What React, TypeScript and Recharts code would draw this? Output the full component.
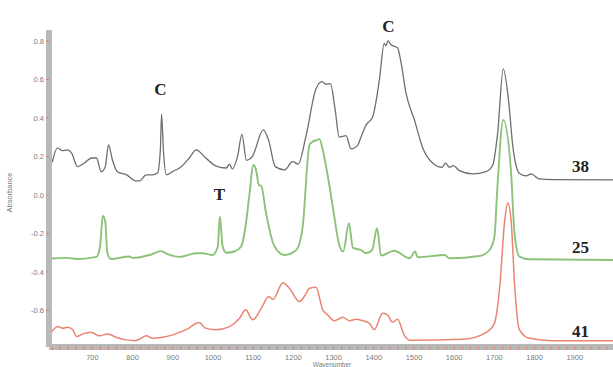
import { LineChart, Line, XAxis, YAxis, ReferenceDot } from "recharts";

// sample 38 (grey trace)
const wn38 = [
  600, 613, 625, 638, 648, 663, 680, 698, 710, 722, 732, 740, 750, 762, 785,
  809, 817, 834, 849, 862, 869, 872, 877, 884, 899, 921, 941, 958, 983, 1008,
  1033, 1041, 1048, 1061, 1072, 1083, 1098, 1125, 1138, 1155, 1178, 1198,
  1212, 1231, 1256, 1271, 1282, 1292, 1304, 1314, 1331, 1343, 1359, 1368,
  1381, 1397, 1414, 1426, 1430, 1435, 1443, 1459, 1468, 1480, 1501, 1522,
  1547, 1570, 1578, 1588, 1598, 1613, 1646, 1679, 1696, 1708, 1722, 1735,
  1746, 1762, 1779, 1791, 1812, 1845, 2000,
];
const abs38 = [
  0.17, 0.245, 0.23, 0.234, 0.218, 0.147, 0.166, 0.192, 0.192, 0.121, 0.147,
  0.26, 0.18, 0.121, 0.104, 0.073, 0.073, 0.104, 0.104, 0.114, 0.234, 0.42,
  0.218, 0.104, 0.121, 0.147, 0.192, 0.234, 0.19, 0.15, 0.14, 0.16, 0.135,
  0.2, 0.315, 0.18, 0.2, 0.338, 0.286, 0.147, 0.13, 0.173, 0.16, 0.303, 0.55,
  0.589, 0.575, 0.578, 0.44, 0.3, 0.308, 0.24, 0.255, 0.3, 0.364, 0.405, 0.6,
  0.788, 0.775, 0.8, 0.78, 0.765, 0.685, 0.53, 0.39, 0.243, 0.165, 0.144,
  0.165, 0.144, 0.152, 0.126, 0.109, 0.121, 0.156, 0.32, 0.655, 0.494, 0.25,
  0.113, 0.099, 0.109, 0.083, 0.08, 0.078,
];

// sample 25 (green trace)
const wn25 = [
  595, 635, 668, 710, 719, 726, 732, 737, 746, 792, 800, 842, 871, 887, 916,
  958, 974, 999, 1012, 1017, 1024, 1033, 1053, 1070, 1082, 1091, 1100, 1107,
  1114, 1120, 1132, 1153, 1178, 1207, 1223, 1240, 1248, 1258, 1265, 1273,
  1290, 1300, 1314, 1324, 1338, 1348, 1368, 1381, 1396, 1408, 1418, 1451,
  1489, 1503, 1509, 1576, 1588, 1663, 1688, 1700, 1708, 1722, 1741, 1750,
  1762, 1787, 2000,
];
const abs25 = [
  -0.33, -0.327, -0.333, -0.322, -0.268, -0.108, -0.14, -0.3, -0.333, -0.32,
  -0.327, -0.312, -0.292, -0.308, -0.322, -0.303, -0.303, -0.312, -0.268,
  -0.113, -0.268, -0.3, -0.294, -0.268, -0.147, 0.01, 0.156, 0.13, 0.052,
  0.047, -0.095, -0.268, -0.312, -0.286, -0.165, 0.26, 0.277, 0.285, 0.29,
  0.234, 0.043, -0.09, -0.26, -0.294, -0.147, -0.275, -0.286, -0.303, -0.286,
  -0.173, -0.315, -0.29, -0.329, -0.294, -0.324, -0.312, -0.329, -0.317,
  -0.286, -0.217, 0.06, 0.39, 0.13, -0.2, -0.32, -0.334, -0.338,
];

// sample 41 (red trace)
const wn41 = [
  595, 614, 626, 639, 651, 661, 676, 697, 717, 738, 759, 784, 804, 817, 834,
  850, 875, 900, 933, 966, 981, 1008, 1041, 1066, 1081, 1099, 1120, 1139,
  1149, 1174, 1190, 1215, 1227, 1240, 1256, 1273, 1285, 1302, 1323, 1339,
  1356, 1372, 1389, 1401, 1422, 1433, 1447, 1459, 1476, 1489, 1621, 1679,
  1700, 1714, 1725, 1733, 1742, 1750, 1762, 1787, 1845, 2000,
];
const abs41 = [
  -0.722, -0.684, -0.692, -0.687, -0.7, -0.736, -0.722, -0.713, -0.732,
  -0.722, -0.739, -0.753, -0.757, -0.75, -0.732, -0.745, -0.739, -0.727,
  -0.7, -0.663, -0.692, -0.7, -0.684, -0.641, -0.597, -0.649, -0.589, -0.528,
  -0.542, -0.456, -0.485, -0.554, -0.528, -0.485, -0.48, -0.597, -0.623,
  -0.653, -0.636, -0.653, -0.646, -0.653, -0.667, -0.7, -0.615, -0.622,
  -0.662, -0.646, -0.73, -0.755, -0.75, -0.715, -0.667, -0.459, -0.147,
  -0.04, -0.147, -0.459, -0.7, -0.745, -0.757, -0.757,
];

const yTicks = [0.8, 0.6, 0.4, 0.2, 0, -0.2, -0.4, -0.6];
const xLabels = [700, 800, 900, 1000, 1100, 1200, 1300, 1400, 1500, 1600, 1700, 1800, 1900];

// text marks on the plot: [text, wavenumber, absorbance, anchor]
const notes: [string, number, number, string][] = [
  ["C", 869, 0.52, "middle"],
  ["T", 1016, -0.026, "middle"],
  ["C", 1436, 0.847, "middle"],
  ["38", 1893, 0.12, "start"],
  ["25", 1893, -0.3, "start"],
  ["41", 1893, -0.738, "start"],
];

const toRows = (wn: number[], abs: number[]) =>
  wn.map((w, i) => ({ wn: w, abs: abs[i] }));

// minor ticks every 20 cm-1, labels only on the hundreds
const xTicks: number[] = [];
for (let w = 600; w <= 2000; w += 20) xTicks.push(w);

const tickFont = { fontSize: 7.5, fill: "#7a7a7a", fontFamily: "Liberation Sans, Arial, sans-serif" };

function XTick(props: any) {
  const { x, y, payload } = props;
  if (!xLabels.includes(payload.value)) return <g />;
  return (
    <text x={x} y={y + 8} textAnchor="middle" {...tickFont}>
      {payload.value}
    </text>
  );
}

export default function App() {
  return (
    <div style={{ position: "absolute", left: 0, top: 0, background: "#fff" }}>
      <LineChart
        width={615}
        height={367}
        margin={{ top: 30, right: 0, bottom: 0, left: 0 }}
      >
        <XAxis
          dataKey="wn"
          type="number"
          domain={[592, 2000]}
          ticks={xTicks}
          interval={0}
          allowDataOverflow
          height={20}
          axisLine={{ stroke: "#b9b9b9", strokeWidth: 6 }}
          tickLine={{ stroke: "#e07a66", strokeWidth: 1 }}
          tickSize={3}
          tick={<XTick />}
          label={{
            value: "Wavenumber",
            position: "insideBottom",
            offset: 0,
            style: { ...tickFont, fontSize: 6.5 },
          }}
        />
        <YAxis
          type="number"
          domain={[-0.79, 0.857]}
          ticks={yTicks}
          interval={0}
          allowDataOverflow
          width={49}
          axisLine={{ stroke: "#b9b9b9", strokeWidth: 6 }}
          tickLine={{ stroke: "#e07a66", strokeWidth: 1 }}
          tickSize={3}
          tickMargin={2}
          tick={tickFont}
          tickFormatter={(v: number) => v.toFixed(1)}
          label={(p: any) => {
            const vb = p.viewBox || { x: 0, y: 30, height: 317 };
            const cx = 12;
            const cy = vb.y + vb.height / 2 + 4;
            return (
              <text
                x={cx}
                y={cy}
                textAnchor="middle"
                transform={`rotate(-90 ${cx} ${cy})`}
                {...tickFont}
              >
                Absorbance
              </text>
            );
          }}
        />
        <Line
          data={toRows(wn38, abs38)}
          dataKey="abs"
          type="monotone"
          stroke="#6e6e6e"
          strokeWidth={1.3}
          dot={false}
          activeDot={false}
          isAnimationActive={false}
        />
        <Line
          data={toRows(wn25, abs25)}
          dataKey="abs"
          type="monotone"
          stroke="#8cc27a"
          strokeWidth={1.9}
          dot={false}
          activeDot={false}
          isAnimationActive={false}
        />
        <Line
          data={toRows(wn41, abs41)}
          dataKey="abs"
          type="monotone"
          stroke="#ea8470"
          strokeWidth={1.5}
          dot={false}
          activeDot={false}
          isAnimationActive={false}
        />
        {notes.map(([text, w, a, anchor], i) => (
          <ReferenceDot
            key={i}
            x={w}
            y={a}
            r={0}
            ifOverflow="visible"
            shape={(p: any) => (
              <text
                x={p.cx}
                y={p.cy}
                textAnchor={anchor}
                fontSize={17}
                fontWeight="bold"
                fontFamily="Liberation Serif, Times New Roman, serif"
                fill="#222"
              >
                {text}
              </text>
            )}
          />
        ))}
      </LineChart>
    </div>
  );
}
